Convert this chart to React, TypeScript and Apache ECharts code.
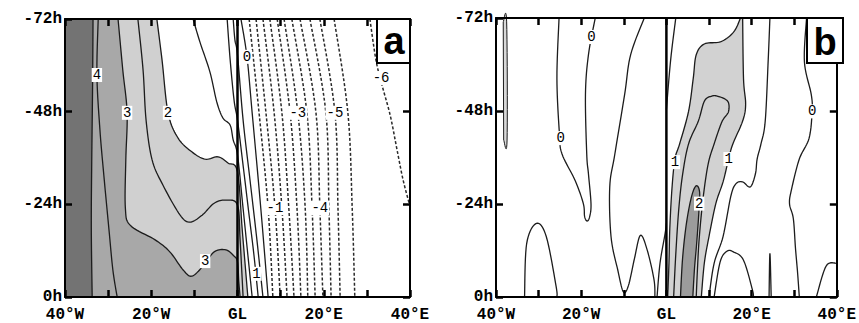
import { useEffect, useRef } from 'react';
import * as echarts from 'echarts';

type P = [number, number];

// ---- axes ----
const lonLabelValues = [-40, -20, 0, 20, 40];
const lonLabelTexts = ['40°W', '20°W', 'GL', '20°E', '40°E'];

// ---- panel a : positive (solid) contours [lon, hour] ----
const aPos45: P[] = [[-33.5, -72], [-33.6, -55], [-33.8, -35], [-33.9, -18], [-33.7, 0]];
const aPos4: P[] = [[-32.3, -72], [-32.6, -57.5], [-31.9, -43.3], [-31, -31.6], [-29.8, -17.4], [-28.9, -7], [-27.9, 0]];
const aPos3: P[] = [[-27.7, -72], [-26.6, -58.8], [-25.6, -47.7], [-25.9, -35.5], [-26, -23], [-24.8, -18.5], [-19.1, -14.8], [-15.7, -11.7], [-12.6, -7], [-10.6, -5.4], [-8, -8], [-5.4, -11.7], [-2.7, -12.2], [-0.8, -10.6], [0, -9.1], [0.3, -4], [0.6, 0]];
const aPos25: P[] = [[-23.1, -72], [-21.9, -58.8], [-21.2, -45.8], [-19.8, -35.5], [-17.3, -29], [-13.3, -21.2], [-11, -19.4], [-8.2, -21.2], [-5.4, -24.3], [-2.7, -25.1], [0, -23.8], [0.6, -14.8], [1.3, 0]];
const aPos2: P[] = [[-18.7, -72], [-17.5, -61.4], [-16.1, -47.7], [-13.8, -41.2], [-10.6, -37.6], [-7.5, -35.7], [-4.5, -36.3], [-2.2, -34.7], [0, -32.4], [1.1, -17.4], [2.4, 0]];
const aPos15: P[] = [[-10.3, -72], [-8.7, -66], [-6.4, -58.3], [-4.8, -50.5], [-3.4, -46.4], [-1.7, -44.5], [-1, -40.7], [0, -36.8], [1.2, -24], [2.3, -12], [3.4, 0]];
const aPos1: P[] = [[-2.4, -72], [-1.7, -61.4], [-0.8, -51], [0, -45.8], [1.2, -35], [2.6, -22], [3.8, -11], [4.8, 0]];
const aPos05: P[] = [[-1, -72], [-0.6, -66.6], [0, -62.7], [1.3, -45.8], [2.9, -30.3], [4.5, -14.8], [5.9, 0]];
const aZero: P[] = [[0.8, -72], [2.2, -62.2], [3.4, -47.7], [5.4, -23], [7.1, 0]];

// ---- panel a : negative (dashed) contours ----
const aNeg05: P[] = [[2.7, -72], [5.0, -47.7], [7.1, -23], [8.2, 0]];
const aNeg1: P[] = [[4.3, -72], [6.6, -47.7], [8.7, -23], [9.9, 0]];
const aNeg15: P[] = [[5.9, -72], [8.5, -47.7], [10.3, -23], [11.5, 0]];
const aNeg2: P[] = [[7.5, -72], [10.3, -47.7], [11.9, -23], [13.1, 0]];
const aNeg25: P[] = [[9.2, -72], [12.2, -47.7], [13.8, -23], [14.7, 0]];
const aNeg3: P[] = [[10.8, -72], [14.0, -47.7], [15.7, -23], [16.3, 0]];
const aNeg35: P[] = [[12.6, -72], [16.1, -47.7], [17.3, -23], [18.0, 0]];
const aNeg4: P[] = [[14.5, -72], [18.2, -47.7], [19.1, -23], [19.8, 0]];
const aNeg45: P[] = [[16.8, -72], [20.5, -47.7], [21.2, -23], [21.7, 0]];
const aNeg5: P[] = [[19.1, -72], [22.6, -47.7], [23.3, -23], [23.8, 0]];
const aNeg55: P[] = [[22.4, -72], [25.6, -47.7], [26.6, -23], [27.2, 0]];
const aNeg6: P[] = [[30.7, -72], [32.1, -61.4], [33.5, -54.9], [35.4, -47.1], [37, -38.1], [38.4, -30.3], [40, -23.5]];

// ---- panel a : contour labels [lon, hour, text] ----
const aLabels: [number, number, string][] = [
  [-32.6, -57.5, '4'], [-25.6, -47.7, '3'], [-16.1, -47.7, '2'], [-7.5, -9.3, '3'],
  [2.2, -62.2, '0'], [4.4, -6, '1'],
  [8.7, -23, '-1'], [14, -47.7, '-3'], [19.1, -23, '-4'], [22.6, -47.7, '-5'], [33.3, -56.7, '-6'],
];

// ---- panel b : contours ----
const bStrip: P[] = [[-38.3, -71], [-37.5, -71], [-37.4, -40.5], [-38.2, -40.5]];
const bZeroW: P[] = [[-25.2, -72], [-25.7, -56.4], [-25.1, -42], [-24.5, -36.9], [-21.4, -30], [-19.5, -24.1], [-19.2, -20.8], [-18.6, -19.6], [-18, -20.8], [-17.7, -24.1], [-18.3, -31.8], [-18.7, -36.9], [-19, -52.3], [-18.3, -62.5], [-16.7, -72]];
const bW: P[] = [[-5.2, -72], [-8.4, -62.5], [-9.8, -52.3], [-12.1, -36.9], [-13.3, -28.4], [-13, -15.6], [-11.4, -6.9], [-10.1, -1.3], [-8.9, -3], [-7.5, -9.9], [-6.1, -15.9], [-4.5, -12.1], [-2.9, -4.4], [-2.7, 0]];
const bBumpW: P[] = [[-33.3, 0], [-32.8, -13.8], [-30.5, -19], [-28.2, -15.6], [-25.9, -2.8], [-25.7, 0]];
const bNearGL: P[] = [[-2.2, 0], [-1.5, -8.7], [-0.3, -16.4], [0, -19]];
const b05L: P[] = [[2.2, -72], [1, -61.2], [0, -48.4]];
const b1L: P[] = [[0.3, 0], [0.6, -8.7], [0.8, -17.7], [1.3, -27.9], [2, -35.6], [3.1, -39.5], [5.2, -47.9], [6.3, -56.4], [7, -62.5], [8.9, -65.3], [12.8, -65.9], [15.8, -68.4], [17.4, -72]];
const b1R: P[] = [[17.9, -72], [18.1, -56.4], [18.6, -49.7], [17.9, -45.4], [15.6, -39.5], [14.6, -35.6], [13.3, -29.7], [11.6, -24.1], [10, -15.6], [8.9, -8.7], [8.2, 0]];
const b15: P[] = [[1.7, 0], [2.2, -11], [2.9, -22.6], [3.8, -31.6], [5.2, -39.5], [7.5, -45.4], [8.9, -50.5], [10.5, -51.8], [12.1, -51.8], [14.4, -50.5], [14.6, -47.9], [13.5, -46.1], [12.8, -44.6], [11.2, -39.5], [9.8, -34.3], [8.6, -25.4], [7.7, -15.1], [7.3, -7.4], [7, 0]];
const b2: P[] = [[3.3, 0], [3.8, -10], [4.7, -19], [5.9, -25.9], [7, -28.7], [7.8, -27], [7.6, -21.5], [7.1, -13.8], [6.6, -7.4], [6.2, 0]];
const b05R: P[] = [[24.3, -72], [23.9, -61.2], [23.2, -45.4], [22.2, -39.5], [21.3, -35.6], [20.9, -31.8], [19.7, -28.4], [17.9, -29.7], [16.3, -29.2], [15.1, -25.9], [13.3, -15.6], [11.2, -8.7], [10, 0]];
const bBumpE: P[] = [[11.2, 0], [12.6, -9], [14.2, -11.8], [15.8, -11.6], [18.1, -9.5], [20.2, -1.8], [20.4, 0]];
const bSpike: P[] = [[24.1, 0], [24.3, -11.3], [24.6, 0]];
const bZeroE: P[] = [[32.9, -72], [32.4, -60.7], [34, -52.3], [34.2, -47.9], [33.5, -41], [31.2, -35.6], [29.4, -27.9], [28.9, -24.1], [29.8, -20.2], [30.3, -12.6], [30.8, -6.2], [31.2, 0]];
const bCorner: P[] = [[35.2, 0], [37.5, -8], [40, -8.7]];

const bLabels: [number, number, string][] = [
  [-24.8, -41, '0'], [-17.6, -67.1, '0'], [34.2, -47.9, '0'],
  [2, -34.8, '1'], [14.6, -35.6, '1'], [7.7, -24.1, '2'],
];

const FONT = '"Liberation Mono", "DejaVu Sans Mono", monospace';
const LINE = '#1c1c1c';

// Catmull-Rom sampling in pixel space
function sample(px: number[][]): number[][] {
  if (px.length < 3) return px;
  const out: number[][] = [px[0]];
  for (let i = 0; i < px.length - 1; i++) {
    const p0 = px[i - 1] || px[i];
    const p1 = px[i];
    const p2 = px[i + 1];
    const p3 = px[i + 2] || p2;
    const c1 = [p1[0] + (p2[0] - p0[0]) / 6, p1[1] + (p2[1] - p0[1]) / 6];
    const c2 = [p2[0] - (p3[0] - p1[0]) / 6, p2[1] - (p3[1] - p1[1]) / 6];
    for (let s = 1; s <= 10; s++) {
      const t = s / 10;
      const u = 1 - t;
      out.push([
        u * u * u * p1[0] + 3 * u * u * t * c1[0] + 3 * u * t * t * c2[0] + t * t * t * p2[0],
        u * u * u * p1[1] + 3 * u * u * t * c1[1] + 3 * u * t * t * c2[1] + t * t * t * p2[1],
      ]);
    }
  }
  return out;
}

function shapeSeries(grid: number, parts: P[][], kind: 'fill' | 'line' | 'dash' | 'closed', color: string, z: number) {
  const all = parts.reduce((acc: P[], p) => acc.concat(p), []);
  return {
    type: 'custom',
    coordinateSystem: 'cartesian2d',
    xAxisIndex: grid * 2,
    yAxisIndex: grid * 2,
    data: all,
    z,
    silent: true,
    renderItem: (params: any, api: any) => {
      if (params.dataIndex !== 0) return null;
      let pts: number[][] = [];
      parts.forEach((part) => {
        const px = part.map((p) => api.coord(p));
        pts = pts.concat(sample(px));
      });
      if (kind === 'fill') {
        return { type: 'polygon', shape: { points: pts }, style: { fill: color, stroke: null } };
      }
      if (kind === 'closed') {
        return { type: 'polygon', shape: { points: pts }, style: { fill: color, stroke: LINE, lineWidth: 1 } };
      }
      return {
        type: 'polyline',
        shape: { points: pts },
        style: {
          fill: null,
          stroke: kind === 'dash' ? '#2a2a2a' : LINE,
          lineWidth: kind === 'dash' ? 1.5 : 1.3,
          lineDash: kind === 'dash' ? [3, 2] : null,
        },
      };
    },
  };
}

function labelSeries(grid: number, labels: [number, number, string][]) {
  return {
    type: 'custom',
    coordinateSystem: 'cartesian2d',
    xAxisIndex: grid * 2,
    yAxisIndex: grid * 2,
    silent: true,
    z: 7,
    data: labels.map((l) => [l[0], l[1]]),
    renderItem: (params: any, api: any) => {
      const c = api.coord([api.value(0), api.value(1)]);
      return {
        type: 'text',
        x: c[0],
        y: c[1],
        style: {
          text: labels[params.dataIndex][2],
          fill: '#000',
          fontFamily: FONT,
          fontSize: 14,
          align: 'center',
          verticalAlign: 'middle',
          backgroundColor: '#fff',
          padding: [0, 1],
        },
      };
    },
  };
}

function glSeries(grid: number) {
  return {
    type: 'line',
    xAxisIndex: grid * 2,
    yAxisIndex: grid * 2,
    data: [[0, -72], [0, 0]],
    showSymbol: false,
    silent: true,
    z: 8,
    lineStyle: { color: '#000', width: 2.5 },
  };
}

function axisLineStyle() {
  return { show: true, onZero: false, lineStyle: { color: '#000', width: 2 } };
}
function tickStyle() {
  return { show: true, inside: true, length: 7, lineStyle: { color: '#000', width: 2.5 } };
}

function xAxes(gi: number) {
  const base = () => ({
    type: 'value',
    gridIndex: gi,
    min: -40,
    max: 40,
    interval: 10,
    axisLine: axisLineStyle(),
    axisTick: tickStyle(),
    splitLine: { show: false },
    z: 10,
  });
  return [
    {
      ...base(),
      position: 'bottom',
      axisLabel: {
        show: true,
        margin: 10,
        color: '#000',
        fontFamily: FONT,
        fontWeight: 'bold',
        fontSize: 16,
        showMinLabel: true,
        showMaxLabel: true,
        formatter: (v: number) => {
          const i = lonLabelValues.indexOf(v);
          return i >= 0 ? lonLabelTexts[i] : '';
        },
      },
    },
    { ...base(), position: 'top', axisLabel: { show: false } },
  ];
}

function yAxes(gi: number) {
  const base = () => ({
    type: 'value',
    gridIndex: gi,
    min: -72,
    max: 0,
    interval: 24,
    inverse: true,
    axisLine: axisLineStyle(),
    axisTick: tickStyle(),
    splitLine: { show: false },
    z: 10,
  });
  return [
    {
      ...base(),
      position: 'left',
      axisLabel: {
        show: true,
        margin: 3,
        color: '#000',
        fontFamily: FONT,
        fontWeight: 'bold',
        fontSize: 16,
        formatter: (v: number) => `${v}h`,
      },
    },
    { ...base(), position: 'right', axisLabel: { show: false } },
  ];
}

export default function App() {
  const ref = useRef<HTMLDivElement>(null);
  useEffect(() => {
    if (!ref.current) return;
    const chart = echarts.init(ref.current, null, { renderer: 'svg' });
    const series: any[] = [
      // panel a shading
      shapeSeries(0, [[[-40, -72]], aPos2, [[-40, 0]]], 'fill', '#d0d0d0', 1),
      shapeSeries(0, [[[-40, -72]], aPos3, [[-40, 0]]], 'fill', '#a8a8a8', 1),
      shapeSeries(0, [[[-40, -72]], aPos45, [[-40, 0]]], 'fill', '#737373', 1),
      // panel a lines
      ...[aPos45, aPos4, aPos3, aPos25, aPos2, aPos15, aPos1, aPos05, aZero].map((c) => shapeSeries(0, [c], 'line', '', 3)),
      ...[aNeg05, aNeg1, aNeg15, aNeg2, aNeg25, aNeg3, aNeg35, aNeg4, aNeg45, aNeg5, aNeg55, aNeg6].map((c) => shapeSeries(0, [c], 'dash', '', 3)),
      glSeries(0),
      labelSeries(0, aLabels),
      // panel b shading
      shapeSeries(1, [b1L, b1R], 'fill', '#d2d2d2', 1),
      shapeSeries(1, [b2], 'fill', '#9c9c9c', 1),
      shapeSeries(1, [bStrip], 'closed', '#d8d8d8', 3),
      ...[bZeroW, bW, bBumpW, bNearGL, b05L, b1L, b1R, b15, b2, b05R, bBumpE, bSpike, bZeroE, bCorner].map((c) => shapeSeries(1, [c], 'line', '', 3)),
      glSeries(1),
      labelSeries(1, bLabels),
    ];
    chart.setOption({
      animation: false,
      backgroundColor: '#fff',
      grid: [
        { left: 65, top: 19, width: 345, height: 278 },
        { left: 496, top: 18, width: 347, height: 281 },
      ],
      xAxis: [...xAxes(0), ...xAxes(1)],
      yAxis: [...yAxes(0), ...yAxes(1)],
      series,
      graphic: [
        { type: 'rect', z: 100, shape: { x: 377, y: 19, width: 33, height: 44 }, style: { fill: '#fff', stroke: '#000', lineWidth: 2 } },
        { type: 'text', z: 101, x: 394, y: 41, style: { text: 'a', fill: '#000', fontSize: 38, fontWeight: 'bold', fontFamily: '"Liberation Sans", Arial, sans-serif', align: 'center', verticalAlign: 'middle', textAlign: 'center', textVerticalAlign: 'middle' } },
        { type: 'rect', z: 100, shape: { x: 807, y: 18, width: 36, height: 45 }, style: { fill: '#fff', stroke: '#000', lineWidth: 2 } },
        { type: 'text', z: 101, x: 825, y: 42, style: { text: 'b', fill: '#000', fontSize: 38, fontWeight: 'bold', fontFamily: '"Liberation Sans", Arial, sans-serif', align: 'center', verticalAlign: 'middle', textAlign: 'center', textVerticalAlign: 'middle' } },
      ],
    });
    return () => chart.dispose();
  }, []);
  return <div ref={ref} style={{ position: 'fixed', left: 0, top: 0, width: 859, height: 323 }} />;
}
